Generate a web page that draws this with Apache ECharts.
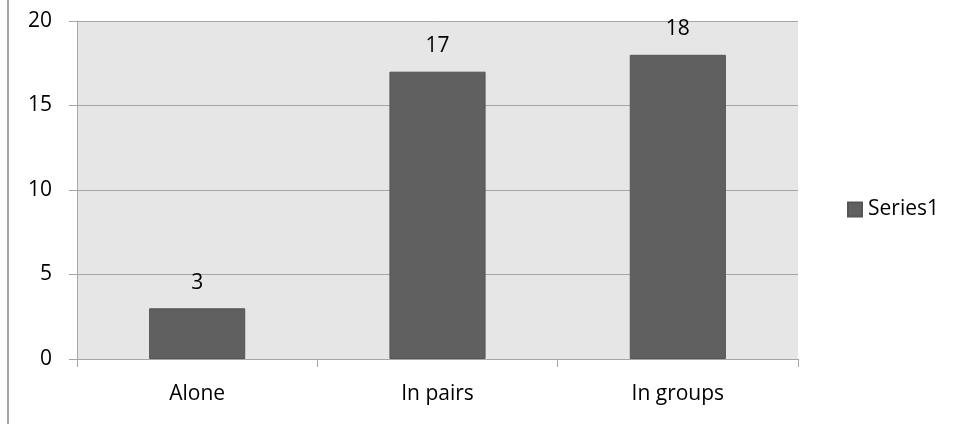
<!DOCTYPE html>
<html>
<head>
<meta charset="utf-8">
<script src="https://cdn.jsdelivr.net/npm/echarts@6/dist/echarts.min.js"></script>
<style>html,body{margin:0;padding:0;background:#fff}#c{width:961px;height:424px}</style>
</head>
<body>
<div id="c"></div>
<script>
var categories = ['Alone', 'In pairs', 'In groups'];
var series1 = [3, 17, 18];
var seriesName = 'Series1';

var FONT = '"Open Sans", "Noto Sans", sans-serif';
var chart = echarts.init(document.getElementById('c'), null, {renderer: 'canvas'});
chart.setOption({
  animation: false,
  backgroundColor: '#ffffff',
  textStyle: {fontFamily: FONT},
  graphic: [{
    type: 'line', shape: {x1: 8, y1: 0, x2: 8, y2: 424},
    style: {stroke: '#a6a6a6', lineWidth: 2}
  }],
  legend: {
    data: [seriesName], left: 842, top: 194, icon: 'rect', itemWidth: 14, itemHeight: 14, itemGap: 6,
    textStyle: {fontFamily: FONT, fontSize: 21, color: '#000', padding: [0, 0, 0, 1]}
  },
  grid: {left: 77, right: 163, top: 21, bottom: 65, show: true, backgroundColor: '#e6e6e6', borderWidth: 0},
  xAxis: {
    type: 'category', data: categories,
    axisLine: {show: true, lineStyle: {color: '#a6a6a6', width: 1}},
    axisTick: {show: true, length: 8, lineStyle: {color: '#a6a6a6'}},
    axisLabel: {color: '#000', fontSize: 21, fontFamily: FONT, margin: 25}
  },
  yAxis: {
    type: 'value', min: 0, max: 20, interval: 5,
    axisLine: {show: true, lineStyle: {color: '#a6a6a6', width: 1}},
    axisTick: {show: true, length: 8, lineStyle: {color: '#a6a6a6'}},
    splitLine: {show: true, lineStyle: {color: '#a6a6a6', width: 1}},
    axisLabel: {color: '#000', fontSize: 21, fontFamily: FONT, margin: 25}
  },
  series: [{
    name: seriesName, type: 'bar', data: series1, barWidth: '40%',
    itemStyle: {color: '#606060', borderColor: '#555555', borderWidth: 1},
    label: {show: true, position: 'top', distance: 15, color: '#000', fontSize: 21, fontFamily: FONT}
  }]
});
</script>
</body>
</html>
